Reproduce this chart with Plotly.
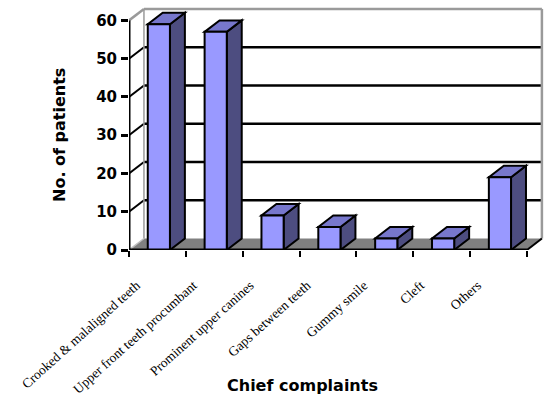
import plotly.graph_objects as go

# Chief complaints and patient counts
categories = [
    "Crooked & malaligned teeth",
    "Upper front teeth procumbant",
    "Prominent upper canines",
    "Gaps between teeth",
    "Gummy smile",
    "Cleft",
    "Others",
]
patients = [59, 57, 9, 6, 3, 3, 19]
y_ticks = [0, 10, 20, 30, 40, 50, 60]

# 3-D look: depth offset of the back wall, in axis units
DX = 0.263
DY = 3.0
BAR_W = 0.39
BAR_OFF = -0.17
Y_TOP = 60

FRONT = "#9999FF"
SIDE = "#4D4D80"
TOP = "#7777CC"
FLOOR = "#808080"
EDGE = "#9A9A9A"

n = len(categories)
left, right = -0.5, n - 0.5

shapes = []


def poly(pts, fill=None, color="black", width=2, layer="below"):
    path = "M " + " L ".join(f"{x},{y}" for x, y in pts) + " Z"
    shapes.append(dict(type="path", path=path, xref="x", yref="y",
                       fillcolor=fill if fill else "rgba(0,0,0,0)",
                       line=dict(color=color, width=width), layer=layer))


def seg(x0, y0, x1, y1, color="black", width=2, layer="below"):
    shapes.append(dict(type="line", x0=x0, y0=y0, x1=x1, y1=y1, xref="x", yref="y",
                       line=dict(color=color, width=width), layer=layer))


# floor
poly([(left, 0), (right, 0), (right + DX, DY), (left + DX, DY)], fill=FLOOR, width=0)

# back-wall gridlines and side-wall stubs
for g in y_ticks[1:-1]:
    seg(left + DX, g + DY, right + DX, g + DY, width=2.5)
    seg(left, g, left + DX, g + DY, width=2)

# wall outlines
seg(left, Y_TOP, left + DX, Y_TOP + DY, color=EDGE, width=2.5)
seg(left + DX, Y_TOP + DY, right + DX, Y_TOP + DY, color=EDGE, width=2.5)
seg(right + DX, Y_TOP + DY, right + DX, DY, color=EDGE, width=2.5)
seg(left + DX, DY, left + DX, Y_TOP + DY, color=EDGE, width=1.5)
seg(left, 0, left + DX, DY, color="#C0C0C0", width=1.5)
seg(right, 0, right + DX, DY, width=2)

# side and top faces of each column
for i, v in enumerate(patients):
    x0 = i + BAR_OFF
    x1 = x0 + BAR_W
    poly([(x1, 0), (x1, v), (x1 + DX, v + DY), (x1 + DX, DY)], fill=SIDE, width=2)
    poly([(x0, v), (x1, v), (x1 + DX, v + DY), (x0 + DX, v + DY)], fill=TOP, width=2)

# axis lines
seg(left, 0, left, Y_TOP, width=3, layer="above")
seg(left, 0, right, 0, width=3, layer="above")

fig = go.Figure(go.Bar(
    x=list(range(n)), y=patients, width=BAR_W, offset=BAR_OFF,
    marker=dict(color=FRONT, line=dict(color="black", width=2)),
    hovertext=categories,
))

fig.update_layout(
    width=544, height=396,
    margin=dict(l=129, r=0, t=7, b=146),
    paper_bgcolor="white", plot_bgcolor="white",
    showlegend=False,
    shapes=shapes,
    xaxis=dict(
        range=[-0.5, 6.8], showgrid=False, zeroline=False, showline=False,
        tickmode="array", tickvals=list(range(n)), ticktext=categories,
        ticks="", tickangle=-42,
        tickfont=dict(family="Liberation Serif", size=13.5, color="black"),
        ticklabelshift=-21, ticklabelstandoff=24,
        minor=dict(tickmode="array", tickvals=[k - 0.5 for k in range(n + 1)],
                   ticks="outside", ticklen=6, tickwidth=2, tickcolor="black"),
    ),
    yaxis=dict(
        range=[0, 63.5], showgrid=False, zeroline=False, showline=False,
        tickmode="array", tickvals=y_ticks,
        ticks="outside", ticklen=7, tickwidth=2.5, tickcolor="black",
        tickfont=dict(family="DejaVu Sans", size=15, color="black", weight="bold"),
        ticklabelstandoff=1,
    ),
    annotations=[
        dict(text="<b>No. of patients</b>", xref="paper", yref="paper",
             x=(59 - 129) / 415, y=(250 - 135) / 243, textangle=-90,
             showarrow=False, xanchor="center", yanchor="middle",
             font=dict(family="DejaVu Sans", size=16, color="black")),
        dict(text="<b>Chief complaints</b>", xref="paper", yref="paper",
             x=(302 - 129) / 415, y=(250 - 385) / 243,
             showarrow=False, xanchor="center", yanchor="middle",
             font=dict(family="DejaVu Sans", size=16, color="black")),
    ],
)

fig.write_html("out.html")
